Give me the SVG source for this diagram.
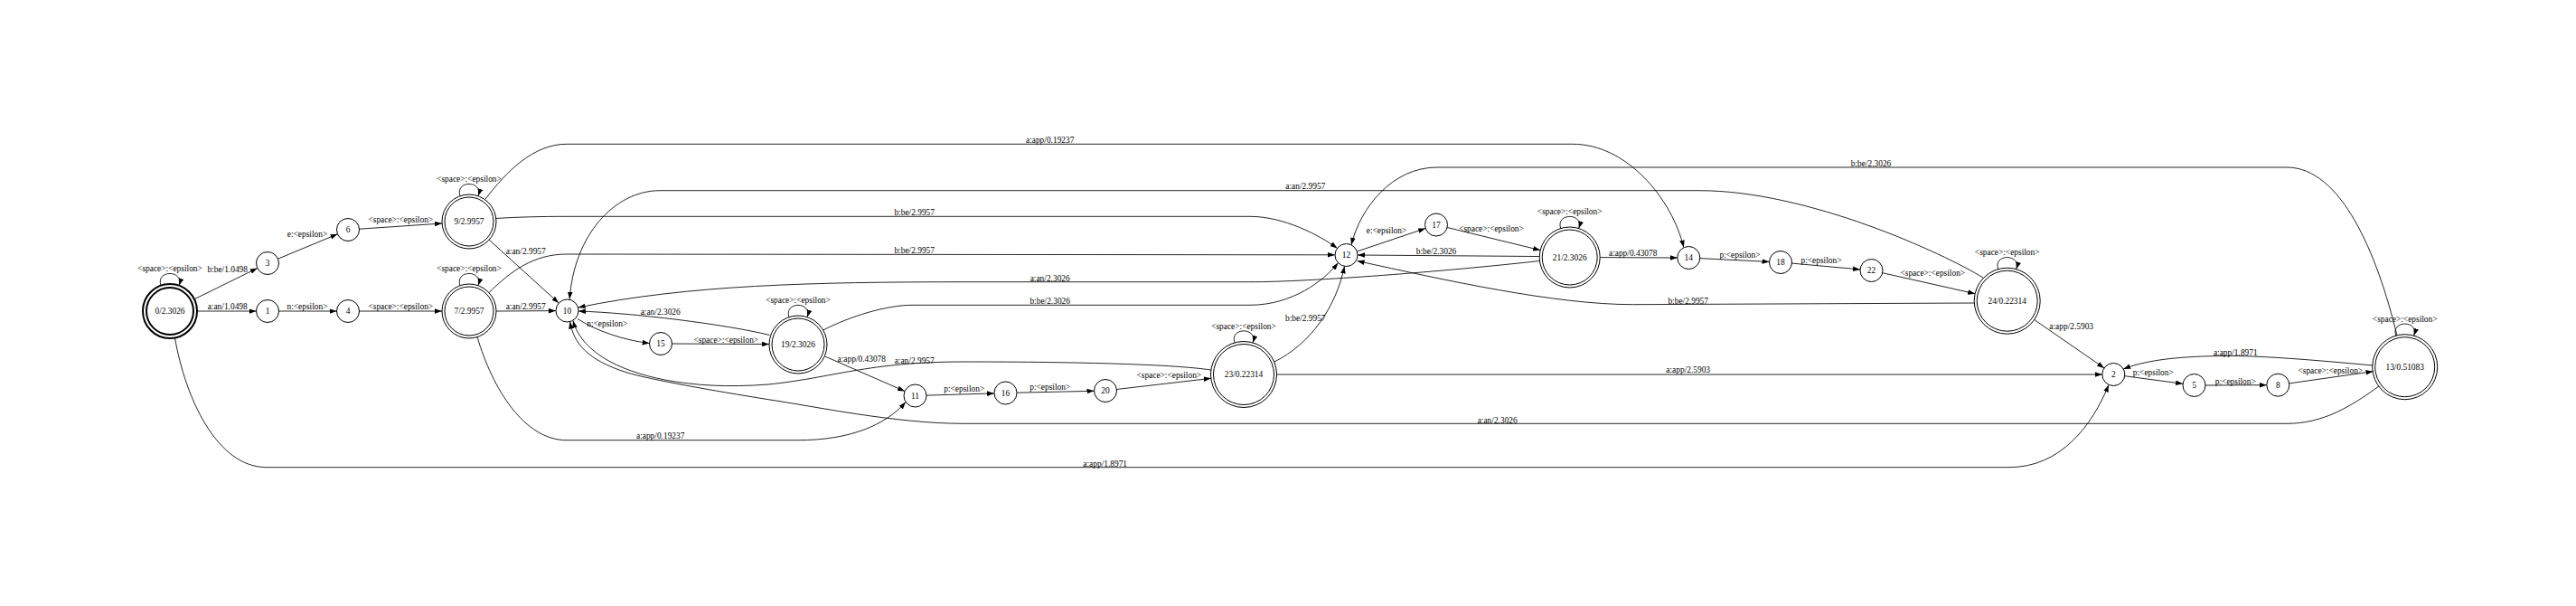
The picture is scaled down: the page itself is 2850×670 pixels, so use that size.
<svg xmlns="http://www.w3.org/2000/svg" width="2850" height="670" viewBox="0 0 2850 670">
<defs>
<marker id="ah" viewBox="0 0 8 6" refX="8" refY="3" markerWidth="8" markerHeight="6" markerUnits="userSpaceOnUse" orient="auto"><path d="M0,0.2 L8,3 L0,5.8 z" fill="#000"/></marker>
</defs>
<style>
text{font-family:"Liberation Serif","Times New Roman",serif;font-size:9.4px;fill:#000;text-anchor:middle}
.n circle{fill:none;stroke:#000;stroke-width:1}
.n.b circle{stroke-width:2}
.e path{fill:none;stroke:#000;stroke-width:0.85;marker-end:url(#ah)}
</style>
<rect width="2850" height="670" fill="#fff"/>
<g id="connectors" class="e">
<g><path d="M214.9,330.8 L284.8,296.5"/><text x="251.7" y="301.3">b:be/1.0498</text></g>
<g><path d="M218,344 L283.5,344"/><text x="251.7" y="342">a:an/1.0498</text></g>
<g><path d="M307.5,286.2 L373.5,258.8"/><text x="340" y="262">e:&lt;epsilon&gt;</text></g>
<g><path d="M308.5,344 L372.5,344"/><text x="340" y="342">n:&lt;epsilon&gt;</text></g>
<g><path d="M397.5,253.2 L489.1,247"/><text x="443.3" y="245.5">&lt;space&gt;:&lt;epsilon&gt;</text></g>
<g><path d="M397.5,344 L489,344"/><text x="443.3" y="342">&lt;space&gt;:&lt;epsilon&gt;</text></g>
<g><path d="M178,315.7 C172,298 204,298 198,315.7"/><text x="188" y="300">&lt;space&gt;:&lt;epsilon&gt;</text></g>
<g><path d="M509,216.7 C503,199 535,199 529,216.7"/><text x="519" y="201">&lt;space&gt;:&lt;epsilon&gt;</text></g>
<g><path d="M509,315.7 C503,298 535,298 529,315.7"/><text x="519" y="300">&lt;space&gt;:&lt;epsilon&gt;</text></g>
<g><path d="M873,350.6 C867,333 899,333 893,350.6"/><text x="883" y="335">&lt;space&gt;:&lt;epsilon&gt;</text></g>
<g><path d="M1366,378.9 C1360,361.5 1392,361.5 1386,378.9"/><text x="1376" y="363.5">&lt;space&gt;:&lt;epsilon&gt;</text></g>
<g><path d="M1726.7,252.5 C1720.7,235 1752.7,235 1746.7,252.5"/><text x="1736.7" y="237">&lt;space&gt;:&lt;epsilon&gt;</text></g>
<g><path d="M2210.7,297.6 C2204.7,280.2 2236.7,280.2 2230.7,297.6"/><text x="2220.7" y="282.2">&lt;space&gt;:&lt;epsilon&gt;</text></g>
<g><path d="M2650.7,371.1 C2644.7,353.7 2676.7,353.7 2670.7,371.1"/><text x="2660.7" y="356">&lt;space&gt;:&lt;epsilon&gt;</text></g>
<g><path d="M541.2,265.2 L618.2,335.1"/><text x="581.7" y="280.7">a:an/2.9957</text></g>
<g><path d="M549,344 L615,343.6"/><text x="581.7" y="341.7">a:an/2.9957</text></g>
<g><path d="M639,352.5 C660,366 690,376 718.6,379.6"/><text x="671.7" y="361.3">n:&lt;epsilon&gt;</text></g>
<g><path d="M743.5,380 L851,380.5"/><text x="803.3" y="379">&lt;space&gt;:&lt;epsilon&gt;</text></g>
<g><path d="M851.5,370.5 C800,358 700,346 640,344"/><text x="730.7" y="348">a:an/2.3026</text></g>
<g><path d="M1703,288.5 C1600,300 1450,311.7 1383,311.7 L1066,311.7 C900,311.7 760,315 639.6,340"/><text x="1161.7" y="310.5">a:an/2.3026</text></g>
<g><path d="M2194,307 C2150,280 2000,210.7 1880,210.7 L730,210.7 C680,210.7 635,260 630.2,330.8"/><text x="1444.3" y="209">a:an/2.9957</text></g>
<g><path d="M536.7,220.5 C560,190 590,159.3 627,159.3 L1740,159.3 C1800,159.3 1850,220 1862.8,273.6"/><text x="1161.7" y="158">a:app/0.19237</text></g>
<g><path d="M549,241.5 C570,240 600,239.3 627,239.3 L1383,239.3 C1420,239.3 1460,260 1479.5,274.5"/><text x="1011.7" y="238">b:be/2.9957</text></g>
<g><path d="M541,323.5 C565,300 590,281 627,281 L1477,281.8"/><text x="1011.7" y="279.5">b:be/2.9957</text></g>
<g><path d="M910.7,365 C940,350 980,337.3 1010,337.3 L1383,337.3 C1430,337.3 1465,310 1480.5,290.6"/><text x="1161.7" y="335.7">b:be/2.3026</text></g>
<g><path d="M1410,400 C1450,380 1478,340 1487.5,294.4"/><text x="1444.3" y="354.5">b:be/2.9957</text></g>
<g><path d="M1703,283.5 L1502,282"/><text x="1589" y="281.2">b:be/2.3026</text></g>
<g><path d="M2184.3,335 L1806.7,336.7 C1720,336.7 1600,310 1501.6,288.5"/><text x="1867.7" y="335.5">b:be/2.9957</text></g>
<g><path d="M1501.3,278 L1577.2,252.5"/><text x="1534" y="258">e:&lt;epsilon&gt;</text></g>
<g><path d="M1601.2,251.5 L1704.1,276.6"/><text x="1650" y="255.5">&lt;space&gt;:&lt;epsilon&gt;</text></g>
<g><path d="M1770.2,284.6 L1855.8,285"/><text x="1806.7" y="283">a:app/0.43078</text></g>
<g><path d="M1880.8,285.6 L1957.5,289.4"/><text x="1925" y="285.2">p:&lt;epsilon&gt;</text></g>
<g><path d="M1982.5,291.1 L2058,297.9"/><text x="2015" y="291">p:&lt;epsilon&gt;</text></g>
<g><path d="M2082.7,301.7 L2185.1,324.7"/><text x="2138.3" y="305.2">&lt;space&gt;:&lt;epsilon&gt;</text></g>
<g><path d="M2250.7,353.5 L2328,406.9"/><text x="2291.7" y="363.6">a:app/2.5903</text></g>
<g><path d="M1412.5,414 L2325.8,414"/><text x="1867.7" y="412.2">a:app/2.5903</text></g>
<g><path d="M2625.2,404 C2560,398 2500,393 2460,393.5 C2400,394 2370,400 2349.2,407.9"/><text x="2473.3" y="393">a:app/1.8971</text></g>
<g><path d="M2350.7,415.7 L2415.1,424.3"/><text x="2382.3" y="415.2">p:&lt;epsilon&gt;</text></g>
<g><path d="M2440,426 L2507.8,425.7"/><text x="2473.3" y="425">p:&lt;epsilon&gt;</text></g>
<g><path d="M2532.7,423.9 L2625.5,410.7"/><text x="2578.3" y="413">&lt;space&gt;:&lt;epsilon&gt;</text></g>
<g><path d="M2652,371 C2630,280 2590,185 2530,185 L1590,185 C1540,185 1505,230 1495,270.8"/><text x="2070" y="183.5">b:be/2.3026</text></g>
<g><path d="M2632,427 C2600,450 2570,468.3 2530,468.3 L1066,468.3 C990,468.3 900,449 850,441.7 C790,432 720,420 693,411.7 C650,398 635,380 630.5,355.6"/><text x="1656.7" y="467.5">a:an/2.3026</text></g>
<g><path d="M1339.6,409 C1300,403 1200,400 1066,400 C960,400 920,418 850,425 C760,432 700,415 670,397 C650,385 638,370 634,354.5"/><text x="1011.7" y="401.5">a:an/2.9957</text></g>
<g><path d="M528,372.5 C545,430 580,486.7 627,486.7 L883,486.7 C940,486.7 980,470 1002,444.5"/><text x="730.7" y="484.7">a:app/0.19237</text></g>
<g><path d="M193.5,373.5 C205,440 240,516.7 295,516.7 L2223,516.7 C2280,516.7 2315,470 2333,425.5"/><text x="1222.7" y="515.5">a:app/1.8971</text></g>
<g><path d="M912.3,393.8 L1001,432.5"/><text x="953.3" y="399.5">a:app/0.43078</text></g>
<g><path d="M1025,437.1 L1100,434.9"/><text x="1066.7" y="433">p:&lt;epsilon&gt;</text></g>
<g><path d="M1125,434.2 L1210.5,432.3"/><text x="1161.7" y="431.2">p:&lt;epsilon&gt;</text></g>
<g><path d="M1235.4,430.5 L1339.8,418.3"/><text x="1293.3" y="418.2">&lt;space&gt;:&lt;epsilon&gt;</text></g>
</g>
<g id="node0" class="n b"><circle cx="188" cy="344" r="30"/><circle cx="188" cy="344" r="26"/><text x="188" y="347.3">0/2.3026</text></g>
<g id="node3" class="n"><circle cx="296" cy="291" r="12.5"/><text x="296" y="294.3">3</text></g>
<g id="node1" class="n"><circle cx="296" cy="344" r="12.5"/><text x="296" y="347.3">1</text></g>
<g id="node6" class="n"><circle cx="385" cy="254" r="12.5"/><text x="385" y="257.3">6</text></g>
<g id="node4" class="n"><circle cx="385" cy="344" r="12.5"/><text x="385" y="347.3">4</text></g>
<g id="node9" class="n"><circle cx="519" cy="245" r="30"/><circle cx="519" cy="245" r="27"/><text x="519" y="248.3">9/2.9957</text></g>
<g id="node7" class="n"><circle cx="519" cy="344" r="30"/><circle cx="519" cy="344" r="27"/><text x="519" y="347.3">7/2.9957</text></g>
<g id="node10" class="n"><circle cx="627.5" cy="343.5" r="12.5"/><text x="627.5" y="346.8">10</text></g>
<g id="node15" class="n"><circle cx="731" cy="380" r="12.5"/><text x="731" y="383.3">15</text></g>
<g id="node19" class="n"><circle cx="883" cy="381" r="32"/><circle cx="883" cy="381" r="29"/><text x="883" y="384.3">19/2.3026</text></g>
<g id="node11" class="n"><circle cx="1012.5" cy="437.5" r="12.5"/><text x="1012.5" y="440.8">11</text></g>
<g id="node16" class="n"><circle cx="1112.5" cy="434.5" r="12.5"/><text x="1112.5" y="437.8">16</text></g>
<g id="node20" class="n"><circle cx="1223" cy="432" r="12.5"/><text x="1223" y="435.3">20</text></g>
<g id="node23" class="n"><circle cx="1376" cy="414" r="36.5"/><circle cx="1376" cy="414" r="33.5"/><text x="1376" y="417.3">23/0.22314</text></g>
<g id="node12" class="n"><circle cx="1489.5" cy="282" r="12.5"/><text x="1489.5" y="285.3">12</text></g>
<g id="node17" class="n"><circle cx="1589" cy="248.5" r="12.5"/><text x="1589" y="251.8">17</text></g>
<g id="node21" class="n"><circle cx="1736.7" cy="284.5" r="33.5"/><circle cx="1736.7" cy="284.5" r="30.5"/><text x="1736.7" y="287.8">21/2.3026</text></g>
<g id="node14" class="n"><circle cx="1868.3" cy="285" r="12.5"/><text x="1868.3" y="288.3">14</text></g>
<g id="node18" class="n"><circle cx="1970" cy="290" r="12.5"/><text x="1970" y="293.3">18</text></g>
<g id="node22" class="n"><circle cx="2070.5" cy="299" r="12.5"/><text x="2070.5" y="302.3">22</text></g>
<g id="node24" class="n"><circle cx="2220.7" cy="332.7" r="36.5"/><circle cx="2220.7" cy="332.7" r="33.5"/><text x="2220.7" y="336">24/0.22314</text></g>
<g id="node2" class="n"><circle cx="2338.3" cy="414" r="12.5"/><text x="2338.3" y="417.3">2</text></g>
<g id="node5" class="n"><circle cx="2427.5" cy="426" r="12.5"/><text x="2427.5" y="429.3">5</text></g>
<g id="node8" class="n"><circle cx="2520.3" cy="425.7" r="12.5"/><text x="2520.3" y="429">8</text></g>
<g id="node13" class="n"><circle cx="2660.7" cy="405.7" r="36"/><circle cx="2660.7" cy="405.7" r="33"/><text x="2660.7" y="409">13/0.51083</text></g>
</svg>
